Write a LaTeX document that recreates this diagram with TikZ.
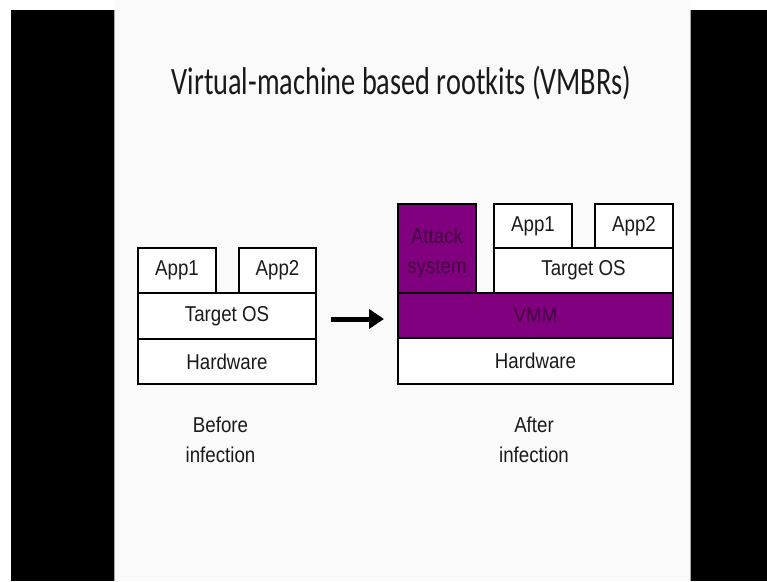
\documentclass[tikz,border=0pt]{standalone}
\usepackage{fontspec}
\usetikzlibrary{arrows.meta}
\newfontfamily\titlefont[FakeStretch=0.73]{Carlito}
\newfontfamily\narrowfont[FakeStretch=0.87]{Liberation Sans}
\definecolor{slidebg}{HTML}{FAFAFA}
\definecolor{vmpurple}{HTML}{800080}
\definecolor{vmtext}{HTML}{45003F}
\definecolor{boxtext}{HTML}{1A1A1A}
\begin{document}
\begin{tikzpicture}[x=1pt,y=-1pt,
  layer/.style={draw=black, line width=2pt, fill=white, anchor=north west,
    inner sep=0pt, outer sep=0pt, text=boxtext,
    font=\narrowfont\fontsize{21.5}{24}\selectfont},
  evil/.style={layer, fill=vmpurple, text=vmtext},
  caption/.style={align=center, text=boxtext,
    font=\narrowfont\fontsize{21.5}{30}\selectfont},
  bigarrow/.style={line width=5pt, -{Triangle[length=15pt,width=19pt]}}
]
\useasboundingbox (0,0) rectangle (767,581);
\fill[white] (0,0) rectangle (767,581);
\fill[black] (11,10) rectangle (114,581);
\fill[black] (691,10) rectangle (767,581);
\fill[slidebg] (114,0) rectangle (691,581);
\draw[gray!70, line width=0.8pt] (114.4,10) -- (114.4,581);
\draw[gray!70, line width=0.8pt] (690.6,10) -- (690.6,581);

\node[anchor=base, inner sep=0pt, font=\titlefont\fontsize{38.8}{44}\selectfont, text=black!90] (title) at (401.5,94.3) {Virtual-machine based rootkits (VMBRs)};

% Before infection
\node[layer, minimum width=78pt, minimum height=45pt] (bapp1) at (138,248) {App1};
\node[layer, minimum width=77pt, minimum height=45pt] (bapp2) at (239,248) {App2};
\node[layer, minimum width=178pt, minimum height=46pt] (bos) at (138,293) {Target OS};
\node[layer, minimum width=178pt, minimum height=45pt] (bhw) at (138,339) {Hardware};

% After infection
\node[evil, minimum width=275pt, minimum height=45pt] (vmm) at (398,293) {VMM};
\node[evil, minimum width=78pt, minimum height=89pt] (attack) at (398,204) {};
\node[align=center, inner sep=0pt, text=vmtext,
  font=\narrowfont\fontsize{21.5}{30}\selectfont] (attacktext) at ([yshift=-4pt]attack.center) {Attack\\system};
\node[layer, minimum width=179pt, minimum height=45pt] (aos) at (494,248) {Target OS};
\node[layer, minimum width=78pt, minimum height=44pt] (aapp1) at (494,204) {App1};
\node[layer, minimum width=78pt, minimum height=44pt] (aapp2) at (595,204) {App2};
\node[layer, minimum width=275pt, minimum height=46pt] (ahw) at (398,338) {Hardware};

\coordinate (arrs) at (331,319);
\coordinate (arre) at (384,319);
\draw[bigarrow] (arrs) -- (arre);

\node[caption] (before) at (220.5,440) {Before\\infection};
\node[caption] (after) at (534,440) {After\\infection};
\end{tikzpicture}
\end{document}
